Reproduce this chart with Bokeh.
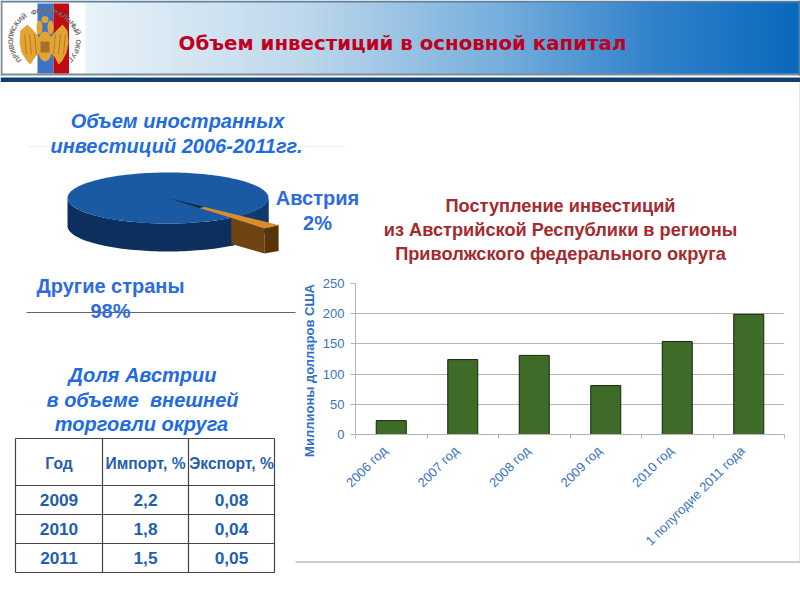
import numpy as np
from bokeh.plotting import figure
from bokeh.models import FixedTicker
from bokeh.core.properties import value
from bokeh.embed import file_html
from bokeh.resources import INLINE

# ---- data ----
years = ["2006 год", "2007 год", "2008 год", "2009 год", "2010 год", "1 полугодие 2011 года"]
inflow = [23, 124, 131, 81, 154, 199]
y_ticks = [0, 50, 100, 150, 200, 250]
pie_labels = ["Другие страны", "Австрия"]
pie_shares = [98, 2]
table_head = ["Год", "Импорт, %", "Экспорт, %"]
table_years = ["2009", "2010", "2011"]
table_import = ["2,2", "1,8", "1,5"]
table_export = ["0,08", "0,04", "0,05"]

SANS = "Liberation Sans"
base = figure(width=800, height=600, x_range=(0, 800), y_range=(600, 0), output_backend="svg",
              toolbar_location=None, min_border=0, outline_line_color=None, tools="",
              styles={"position": "absolute", "left": "0px", "top": "0px"})
base.axis.visible = False
base.grid.visible = False


def txt(x, y, s, size, color, style="normal", font=SANS, align="center", angle=0):
    base.text([x], [y], [s], text_font=value(font), text_font_size=f"{size}px", text_color=color,
              text_font_style=style, text_align=align, text_baseline="middle", angle=angle)


# ---- header ----
stops_x = [85, 300, 500, 650, 800]
stops_rgb = np.array([[232, 242, 249], [190, 216, 236], [118, 174, 221], [50, 130, 203], [8, 104, 188]])
edges = np.arange(85, 800, 4)
cols = ["#%02x%02x%02x" % tuple(int(np.interp(e, stops_x, stops_rgb[:, k])) for k in range(3)) for e in edges]
base.quad(left=edges, right=800, top=2, bottom=73, color=cols, line_color=None)
base.quad(left=0, right=800, top=0, bottom=2, color="#5f7f9c", line_color=None)
base.quad(left=0, right=800, top=73, bottom=75, color="#7d8c99", line_color=None)
base.quad(left=0, right=800, top=77, bottom=81.5, color="#0f3f70", line_color=None)
base.quad(left=0, right=2, top=0, bottom=75, color="#7d8c99", line_color=None)
base.quad(left=798, right=800, top=0, bottom=75, color="#4d7da8", line_color=None)

# logo
base.quad(left=37, right=53, top=3, bottom=73, color="#3f74c4", line_color=None)
base.quad(left=53, right=68.5, top=3, bottom=73, color="#c00a14", line_color=None)
gold = "#e2a534"
dark = "#a8702a"
base.patch([40, 33, 27, 20, 19, 21, 26, 30, 35, 40], [38, 30, 24, 30, 42, 52, 60, 64, 56, 52], color=gold, line_color=None)
base.patch([49, 56, 62, 67, 68, 66, 62, 58, 54, 49], [38, 30, 24, 30, 42, 52, 60, 64, 56, 52], color=gold, line_color=None)
base.ellipse([44.5], [46], width=15, height=30, color=gold, line_color=None)
base.ellipse([39, 50], [27, 27], width=6, height=14, color=gold, line_color=None)
base.ellipse([44.5], [19], width=7, height=7, color=gold, line_color=None)
base.quad(left=40, right=49, top=41, bottom=52, color=dark, line_color=None)
for x0 in [24, 29, 34]:
    base.line([x0, x0 + 2], [34, 54], color=dark, line_width=0.8)
    base.line([89 - x0, 87 - x0], [34, 54], color=dark, line_width=0.8)
ring = "ПРИВОЛЖСКИЙ ФЕДЕРАЛЬНЫЙ ОКРУГ"
ang = np.linspace(np.radians(140), np.radians(400), len(ring))
for ch, a in zip(ring, ang):
    base.text([44 + 34 * np.cos(a)], [40 + 30 * np.sin(a)], [ch], text_font=value(SANS), text_font_size="7px",
              text_color="#6f6f6f", text_font_style="bold", text_align="center", text_baseline="middle",
              angle=-(a + np.pi / 2))

txt(402, 43, "Объем инвестиций в основной капитал", 19.8, "#c00020", "bold", "DejaVu Sans")

# ---- 3D pie, angles from pie_shares ----
cx, cy, rx, ry, depth = 167.5, 197.5, 100.5, 25.5, 28
slice_start = 44.0
slice_span = pie_shares[1] / sum(pie_shares) * 360
slice_end = slice_start + slice_span
explode = 1.53


def rim(a_deg, k=1.0):
    a = np.radians(a_deg)
    return cx + k * rx * np.cos(a), cy + k * ry * np.sin(a)


th = np.linspace(0, 180, 90)
xs, ys = rim(th)
base.patch(list(xs) + list(xs[::-1]), list(ys) + list(ys[::-1] + depth), color="#0c2f5e", line_color=None)
th2 = np.linspace(0, slice_end, 40)
xs, ys = rim(th2)
base.patch(list(xs) + list(xs[::-1]), list(ys) + list(ys[::-1] + depth), color="#133a6e", line_color=None)
th3 = np.linspace(0, 360, 180)
xs, ys = rim(th3)
base.patch(xs, ys, color="#1a5aa2", line_color=None)

t1 = np.array(rim(slice_start, explode))
t2 = np.array(rim(slice_end, explode))
ap = np.array([cx, cy])
near = 0.657
mid = 0.33
n2 = ap + near * (t2 - ap)
m1, m2 = ap + mid * (t1 - ap), ap + mid * (t2 - ap)
base.patch([ap[0], m1[0], m2[0]], [ap[1], m1[1], m2[1]], color="#14243c", line_color=None)
base.patch([n2[0], t2[0], t2[0], n2[0]], [n2[1], t2[1], t2[1] + 25, n2[1] + 26], color="#6f4312", line_color=None)
base.patch([t2[0], t1[0], t1[0], t2[0]], [t2[1], t1[1], t1[1] + 26, t2[1] + 25], color="#58340a", line_color=None)
base.patch([m1[0], t1[0], t2[0], m2[0]], [m1[1], t1[1], t2[1], m2[1]], color="#dc8c2c", line_color=None)

base.line([27, 345], [146, 146], color="#f0f0f0", line_width=1)
base.line([26, 295], [312, 312], color="#666666", line_width=1)
base.line([295, 800], [561.5, 561.5], color="#9a9a9a", line_width=1)
base.line([799.5, 799.5], [82, 561], color="#c8c8c8", line_width=1)

blue = "#1f6ce0"
txt(177, 120.5, "Объем иностранных", 20, blue, "bold italic")
txt(176, 145.5, "инвестиций 2006-2011гг.", 20, blue, "bold italic")
txt(317, 197, pie_labels[1], 20, "#2f6be0", "bold")
txt(317, 222, f"{pie_shares[1]}%", 20, "#2f6be0", "bold")
txt(110, 285, pie_labels[0], 20, "#2f6be0", "bold")
txt(110, 310, f"{pie_shares[0]}%", 20, "#2f6be0", "bold")
txt(142, 374.5, "Доля Австрии", 20, blue, "bold italic")
txt(142, 399, "в объеме \u00a0внешней", 20, blue, "bold italic")
txt(141, 423, "торговли округа", 20, blue, "bold italic")

# ---- table ----
col_x = [15, 102, 188, 274]
row_y = [438, 485, 514, 543, 572]
tc = "#1f5fb0"
for x in col_x:
    base.line([x, x], [row_y[0], row_y[-1]], color="#444444", line_width=1.2)
for y in row_y:
    base.line([col_x[0], col_x[-1]], [y, y], color="#444444", line_width=1.2)
for i, h in enumerate(table_head):
    txt((col_x[i] + col_x[i + 1]) / 2, 463, h, 15.6, tc, "bold")
for j in range(3):
    ym = (row_y[j + 1] + row_y[j + 2]) / 2
    txt(58.5, ym, table_years[j], 17.3, tc, "bold")
    txt(145, ym, table_import[j], 17.3, tc, "bold")
    txt(231, ym, table_export[j], 17.3, tc, "bold")

# ---- bar chart heading and axis title ----
red = "#a32a2e"
txt(560, 205.5, "Поступление инвестиций", 18.2, red, "bold")
txt(560, 229, "из Австрийской Республики в регионы", 18.2, red, "bold")
txt(560, 253, "Приволжского федерального округа", 18.2, red, "bold")
txt(309, 370, "Миллионы долларов США", 13, "#2f6fc4", "bold", angle=np.pi / 2)

# ---- bar chart ----
centers = [i + 0.5 for i in range(len(years))]
label_ticks = [c - 0.09 for c in centers]
bar = figure(width=505, height=290, x_range=(0, len(years)), y_range=(0, 250), output_backend="svg",
             toolbar_location=None, tools="", min_border_left=60, min_border_right=16,
             min_border_top=13, min_border_bottom=126, outline_line_color=None,
             background_fill_alpha=0, border_fill_alpha=0,
             styles={"position": "absolute", "left": "295px", "top": "270px"})
bar.vbar(x=centers, top=inflow, width=0.42, color="#3f6b28", line_color="#12280c", line_width=1)
bar.xgrid.visible = False
bar.ygrid.grid_line_color = "#b4b4b4"
bar.ygrid.grid_line_width = 1.2
bar.yaxis.ticker = FixedTicker(ticks=y_ticks)
bar.yaxis.axis_line_color = "#b4b4b4"
bar.yaxis.major_tick_line_color = "#b4b4b4"
bar.yaxis.major_tick_in = 0
bar.yaxis.major_tick_out = 5
bar.yaxis.minor_tick_line_color = None
bar.yaxis.major_label_text_color = "#3a74bd"
bar.yaxis.major_label_text_font = SANS
bar.yaxis.major_label_text_font_size = "13px"
bar.yaxis.major_label_standoff = 6
xa = bar.xaxis[0]
xa.ticker = FixedTicker(ticks=label_ticks, minor_ticks=list(range(len(years) + 1)))
xa.major_label_overrides = dict(zip(label_ticks, years))
xa.axis_line_color = "#b4b4b4"
xa.major_tick_line_color = None
xa.major_tick_in = 0
xa.major_tick_out = 0
xa.minor_tick_line_color = "#b4b4b4"
xa.minor_tick_in = 0
xa.minor_tick_out = 4
xa.major_label_orientation = np.pi / 4
xa.major_label_text_color = "#3a74bd"
xa.major_label_text_font = SANS
xa.major_label_text_font_size = "13px"
xa.major_label_standoff = 10

open("out.html", "w").write(file_html([base, bar], INLINE))
